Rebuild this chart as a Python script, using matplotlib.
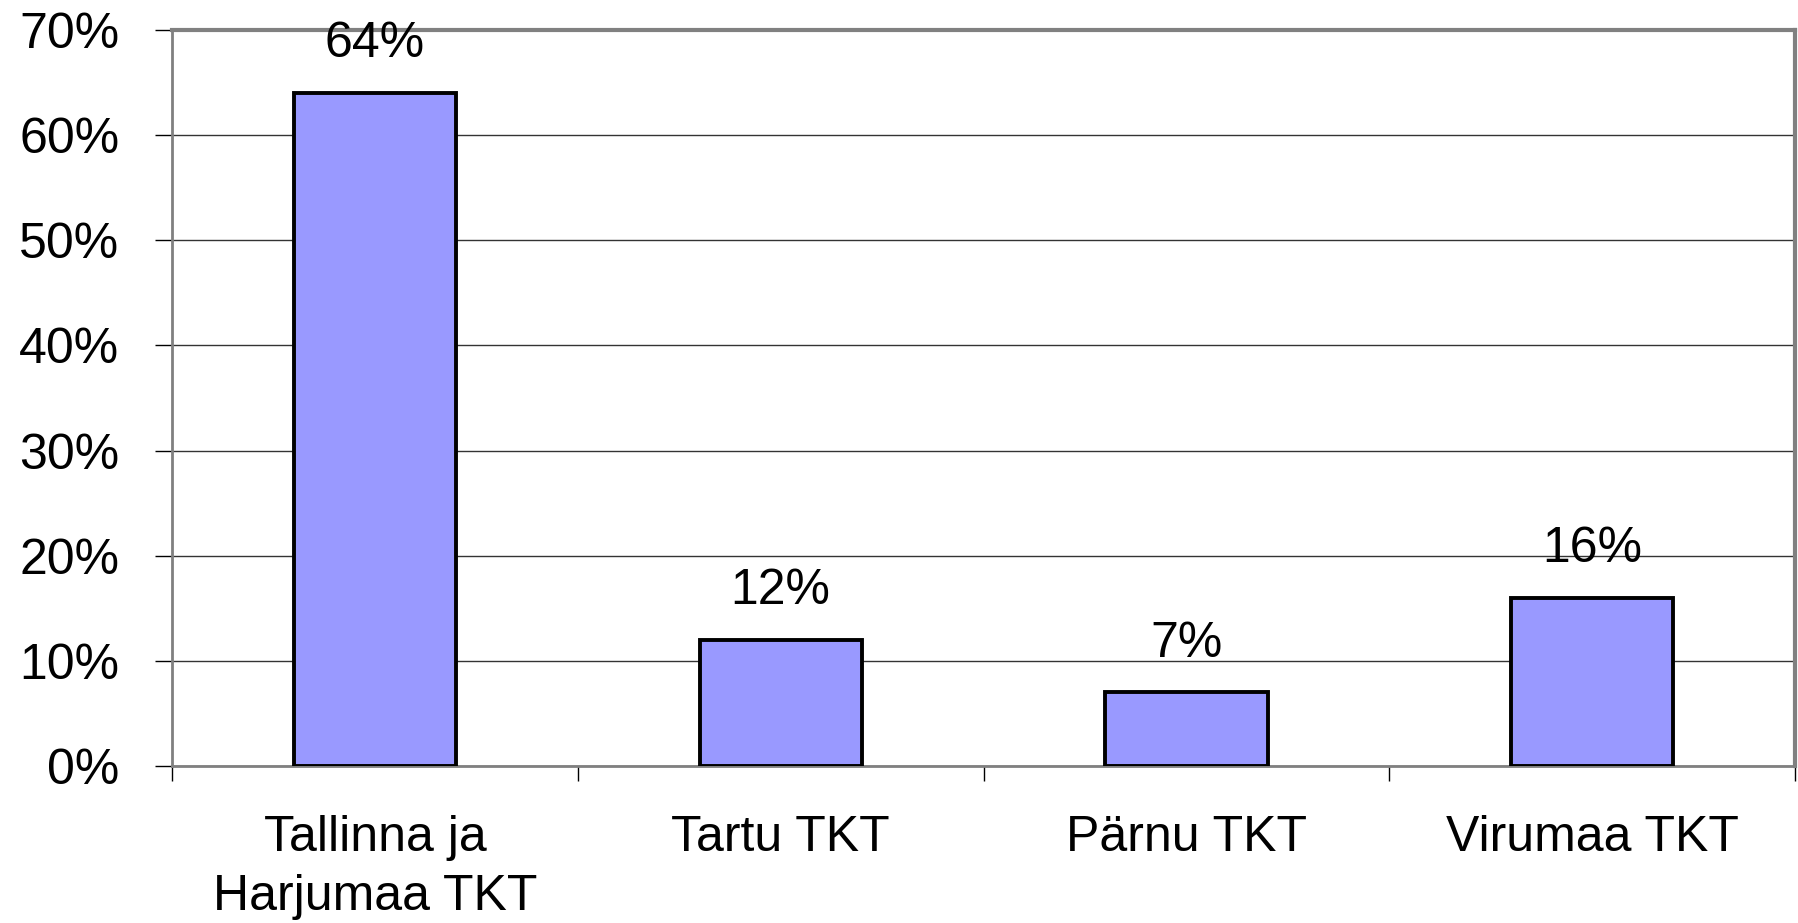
import matplotlib.pyplot as plt
import numpy as np

regions = ["Tallinna ja\nHarjumaa TKT", "Tartu TKT", "Pärnu TKT", "Virumaa TKT"]
shares = [64, 12, 7, 16]
y_ticks = [0, 10, 20, 30, 40, 50, 60, 70]

plt.rcParams['font.family'] = ['Liberation Sans', 'DejaVu Sans']

fig = plt.figure(figsize=(17.98, 9.23), dpi=100)
ax = fig.add_axes([0.0957, 0.1701, 0.9026, 0.7974])

x = np.arange(len(regions))
bars = ax.bar(x, shares, width=0.4, color='#9999FF', edgecolor='black',
              linewidth=2.8, zorder=3)

for bar, val in zip(bars, shares):
    ax.annotate(f'{val}%', (bar.get_x() + bar.get_width() / 2, bar.get_height()),
                xytext=(0, 35), textcoords='offset points',
                ha='center', va='center', fontsize=36)

ax.set_xlim(-0.5, len(regions) - 0.5)
ax.set_ylim(0, 70)
ax.set_yticks(y_ticks)
ax.set_yticklabels([f'{t}%' for t in y_ticks], fontsize=36)
ax.tick_params(axis='y', length=12, width=1, color='black', pad=26)

ax.set_xticks(x)
ax.set_xticklabels(regions, fontsize=36, linespacing=1.38)
ax.set_xticks(np.arange(-0.5, len(regions)), minor=True)
ax.tick_params(axis='x', which='major', length=0, pad=35)
ax.tick_params(axis='x', which='minor', length=11, width=1, color='black')

ax.grid(axis='y', color='#333333', linewidth=1, zorder=0)
ax.set_axisbelow(True)

for side in ['left', 'bottom']:
    ax.spines[side].set_color('#808080')
    ax.spines[side].set_linewidth(2)
for side in ['top', 'right']:
    ax.spines[side].set_color('#808080')
    ax.spines[side].set_linewidth(3)

fig.savefig('out.png', dpi=100)
